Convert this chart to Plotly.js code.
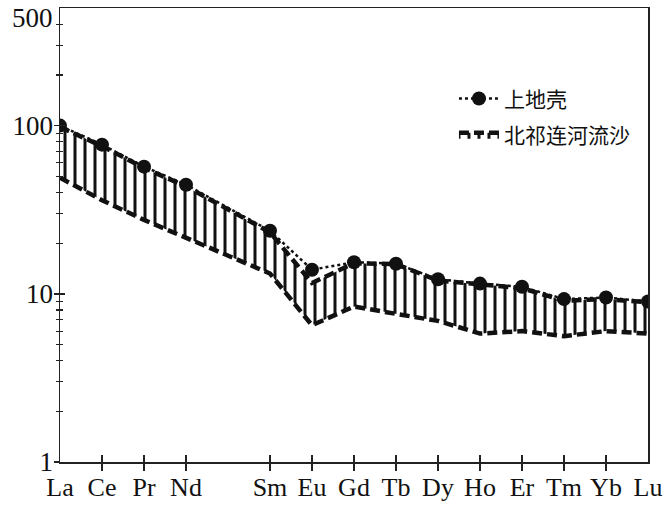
<!DOCTYPE html>
<html>
<head>
<meta charset="utf-8">
<script src="https://cdn.plot.ly/plotly-3.0.1.min.js"></script>
<style>html,body{margin:0;padding:0;background:#fff;}#chart{width:669px;height:506px;}</style>
</head>
<body>
<div id="chart"></div>
<script>
// REE elements and their position along the axis (Pm omitted)
var elements = ['La','Ce','Pr','Nd','Sm','Eu','Gd','Tb','Dy','Ho','Er','Tm','Yb','Lu'];
var elementIndex = [0,1,2,3,5,6,7,8,9,10,11,12,13,14];
// Upper continental crust (上地壳), chondrite-normalized
var upperCrust = [100, 77, 57, 44.5, 23.7, 13.9, 15.4, 15.1, 12.2, 11.5, 11.0, 9.3, 9.5, 9.0];
// North Qilian river sand (北祁连河流沙) range
var sandUpper = [98, 75.5, 56, 43.5, 23.2, 11.6, 15.2, 15.0, 12.0, 11.3, 10.8, 9.1, 9.3, 8.9];
var sandLower = [49, 36, 27.5, 21.5, 13.2, 6.5, 8.4, 7.6, 6.9, 5.8, 6.0, 5.6, 6.0, 5.8];
// axis ticks
var yMajor = [1, 10, 100];
var yMajorText = ['1', '10', '100'];
var yTopValue = 500;
var yTopText = '500';
var yMinor = [2,3,4,5,6,7,8,9,20,30,40,50,60,70,80,90,200,300,400];
var xInner = elementIndex.slice(1, elementIndex.length - 1);
var yTop = Math.log10(yTopValue);

var serif = 'Liberation Serif, Times New Roman, serif';
var cjk = 'Noto Sans CJK SC, sans-serif';

var traces = [
  {x: elementIndex, y: sandLower, mode: 'lines', showlegend: false, hoverinfo: 'skip',
   line: {color: '#111', width: 4.5, dash: '10px,5px'}},
  {x: elementIndex, y: sandUpper, mode: 'lines', name: '北祁连河流沙', fill: 'tonexty',
   fillcolor: 'rgba(0,0,0,0)', legendrank: 2, legendgroup: 'b',
   fillpattern: {shape: '|', size: 10, solidity: 0.3, fgcolor: '#111', bgcolor: 'rgba(0,0,0,0)'},
   line: {color: '#111', width: 4.5, dash: '10px,5px'}},
  {x: elementIndex, y: upperCrust, mode: 'lines+markers', name: '上地壳', legendrank: 1, legendgroup: 'a',
   line: {color: '#111', width: 2.5, dash: 'dot'},
   marker: {color: '#111', size: 14, symbol: 'circle'}},
  {x: [], y: [], xaxis: 'x2', yaxis: 'y2', showlegend: false, hoverinfo: 'skip'}
];

var layout = {
  width: 669, height: 506,
  margin: {l: 60, r: 21, t: 8, b: 44},
  paper_bgcolor: '#fff', plot_bgcolor: '#fff',
  showlegend: true,
  legend: {x: 0.67, y: 0.845, xanchor: 'left', yanchor: 'top', bgcolor: 'rgba(0,0,0,0)',
           font: {family: cjk, size: 21, color: '#111'}, itemwidth: 40,
           traceorder: 'grouped', tracegroupgap: 6},
  annotations: [{xref: 'paper', yref: 'y', x: 0, y: yTop, text: yTopText, showarrow: false,
                 xanchor: 'right', yanchor: 'middle', xshift: -5, yshift: -10,
                 font: {family: serif, size: 27, color: '#111'}}],
  xaxis: {range: [0, 14], tickmode: 'array', tickvals: elementIndex, ticktext: elements,
          ticks: '', ticklabelstandoff: 1, showgrid: false, zeroline: false,
          showline: true, mirror: true, linecolor: '#222', linewidth: 1.5,
          tickfont: {family: serif, size: 26, color: '#111'},
          minor: {tickmode: 'array', tickvals: xInner, ticks: 'inside', ticklen: 7, tickwidth: 1.5, tickcolor: '#222'}},
  xaxis2: {range: [0, 14], overlaying: 'x', side: 'bottom', anchor: 'y', tickmode: 'array', tickvals: xInner,
           ticks: 'outside', ticklen: 8, tickwidth: 1.5, tickcolor: '#222', showticklabels: false,
           showgrid: false, zeroline: false, showline: false},
  yaxis: {type: 'log', range: [0, yTop], tickmode: 'array', tickvals: yMajor, ticktext: yMajorText,
          ticks: 'inside', ticklen: 5, tickwidth: 1.5, tickcolor: '#222', showgrid: false, zeroline: false,
          showline: true, mirror: true, linecolor: '#222', linewidth: 1.5, ticklabelstandoff: 0,
          tickfont: {family: serif, size: 27, color: '#111'},
          minor: {tickmode: 'array', tickvals: yMinor, ticks: 'inside', ticklen: 3, tickwidth: 1.2, tickcolor: '#222'}},
  yaxis2: {type: 'log', range: [0, yTop], overlaying: 'y', side: 'left', anchor: 'x',
           tickmode: 'array', tickvals: yMajor, ticks: 'outside', ticklen: 5, tickwidth: 1.5, tickcolor: '#222',
           showticklabels: false, showgrid: false, zeroline: false, showline: false,
           minor: {tickmode: 'array', tickvals: yMinor, ticks: 'outside', ticklen: 3, tickwidth: 1.2, tickcolor: '#222'}}
};

Plotly.newPlot('chart', traces, layout, {displayModeBar: false, staticPlot: true});
</script>
</body>
</html>
